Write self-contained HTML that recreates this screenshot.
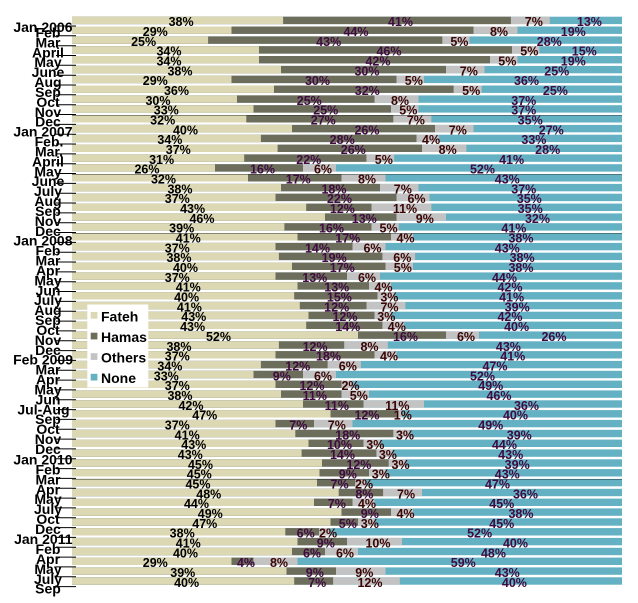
<!DOCTYPE html>
<html><head><meta charset="utf-8">
<style>
html,body{margin:0;padding:0;background:#fff;}
svg{display:block;font-family:"Liberation Sans",Arial,sans-serif;}
.f{fill:#dcd8b3}.h{fill:#6c6e5b}.o{fill:#c3c3c3}.n{fill:#63b1c3}
.L text{font-size:12.5px;font-weight:bold;text-anchor:middle}
.L .tf{fill:#000}.L .th{fill:#3f0a40}.L .to{fill:#3a0505}.L .tn{fill:#3f0a40}
.Y text{font-size:14px;font-weight:bold;fill:#000}
.Y .m{text-anchor:middle}.Y .e{text-anchor:end}
.lg text{font-size:14px;font-weight:bold;fill:#000}
</style></head><body>
<svg width="638" height="603" viewBox="0 0 638 603" xmlns="http://www.w3.org/2000/svg">
<rect width="638" height="603" fill="#fff"/>
<g id="bars">
<g transform="translate(0,16.7)"><rect class="n" x="72" width="550" height="7.4"/><rect class="o" x="72" width="477.8" height="7.4"/><rect class="h" x="72" width="438.9" height="7.4"/><rect class="f" x="72" width="211.1" height="7.4"/></g>
<g transform="translate(0,26.5)"><rect class="n" x="72" width="550" height="7.4"/><rect class="o" x="72" width="445.5" height="7.4"/><rect class="h" x="72" width="401.5" height="7.4"/><rect class="f" x="72" width="159.5" height="7.4"/></g>
<g transform="translate(0,36.4)"><rect class="n" x="72" width="550" height="7.4"/><rect class="o" x="72" width="397.5" height="7.4"/><rect class="h" x="72" width="370.3" height="7.4"/><rect class="f" x="72" width="136.1" height="7.4"/></g>
<g transform="translate(0,46.2)"><rect class="n" x="72" width="550" height="7.4"/><rect class="o" x="72" width="467.5" height="7.4"/><rect class="h" x="72" width="440" height="7.4"/><rect class="f" x="72" width="187" height="7.4"/></g>
<g transform="translate(0,56.0)"><rect class="n" x="72" width="550" height="7.4"/><rect class="o" x="72" width="445.5" height="7.4"/><rect class="h" x="72" width="418" height="7.4"/><rect class="f" x="72" width="187" height="7.4"/></g>
<g transform="translate(0,65.9)"><rect class="n" x="72" width="550" height="7.4"/><rect class="o" x="72" width="412.5" height="7.4"/><rect class="h" x="72" width="374" height="7.4"/><rect class="f" x="72" width="209" height="7.4"/></g>
<g transform="translate(0,75.7)"><rect class="n" x="72" width="550" height="7.4"/><rect class="o" x="72" width="352" height="7.4"/><rect class="h" x="72" width="324.5" height="7.4"/><rect class="f" x="72" width="159.5" height="7.4"/></g>
<g transform="translate(0,85.5)"><rect class="n" x="72" width="550" height="7.4"/><rect class="o" x="72" width="409.7" height="7.4"/><rect class="h" x="72" width="381.6" height="7.4"/><rect class="f" x="72" width="202" height="7.4"/></g>
<g transform="translate(0,95.4)"><rect class="n" x="72" width="550" height="7.4"/><rect class="o" x="72" width="346.5" height="7.4"/><rect class="h" x="72" width="302.5" height="7.4"/><rect class="f" x="72" width="165" height="7.4"/></g>
<g transform="translate(0,105.2)"><rect class="n" x="72" width="550" height="7.4"/><rect class="o" x="72" width="346.5" height="7.4"/><rect class="h" x="72" width="319" height="7.4"/><rect class="f" x="72" width="181.5" height="7.4"/></g>
<g transform="translate(0,115.1)"><rect class="n" x="72" width="550" height="7.4"/><rect class="o" x="72" width="359.4" height="7.4"/><rect class="h" x="72" width="321.3" height="7.4"/><rect class="f" x="72" width="174.3" height="7.4"/></g>
<g transform="translate(0,124.9)"><rect class="n" x="72" width="550" height="7.4"/><rect class="o" x="72" width="401.5" height="7.4"/><rect class="h" x="72" width="363" height="7.4"/><rect class="f" x="72" width="220" height="7.4"/></g>
<g transform="translate(0,134.7)"><rect class="n" x="72" width="550" height="7.4"/><rect class="o" x="72" width="366.7" height="7.4"/><rect class="h" x="72" width="344.5" height="7.4"/><rect class="f" x="72" width="188.9" height="7.4"/></g>
<g transform="translate(0,144.6)"><rect class="n" x="72" width="550" height="7.4"/><rect class="o" x="72" width="394.4" height="7.4"/><rect class="h" x="72" width="350" height="7.4"/><rect class="f" x="72" width="205.6" height="7.4"/></g>
<g transform="translate(0,154.4)"><rect class="n" x="72" width="550" height="7.4"/><rect class="o" x="72" width="322.2" height="7.4"/><rect class="h" x="72" width="294.4" height="7.4"/><rect class="f" x="72" width="172.2" height="7.4"/></g>
<g transform="translate(0,164.2)"><rect class="n" x="72" width="550" height="7.4"/><rect class="o" x="72" width="264" height="7.4"/><rect class="h" x="72" width="231" height="7.4"/><rect class="f" x="72" width="143" height="7.4"/></g>
<g transform="translate(0,174.1)"><rect class="n" x="72" width="550" height="7.4"/><rect class="o" x="72" width="313.5" height="7.4"/><rect class="h" x="72" width="269.5" height="7.4"/><rect class="f" x="72" width="176" height="7.4"/></g>
<g transform="translate(0,183.9)"><rect class="n" x="72" width="550" height="7.4"/><rect class="o" x="72" width="346.5" height="7.4"/><rect class="h" x="72" width="308" height="7.4"/><rect class="f" x="72" width="209" height="7.4"/></g>
<g transform="translate(0,193.7)"><rect class="n" x="72" width="550" height="7.4"/><rect class="o" x="72" width="357.5" height="7.4"/><rect class="h" x="72" width="324.5" height="7.4"/><rect class="f" x="72" width="203.5" height="7.4"/></g>
<g transform="translate(0,203.6)"><rect class="n" x="72" width="550" height="7.4"/><rect class="o" x="72" width="359.4" height="7.4"/><rect class="h" x="72" width="299.5" height="7.4"/><rect class="f" x="72" width="234.2" height="7.4"/></g>
<g transform="translate(0,213.4)"><rect class="n" x="72" width="550" height="7.4"/><rect class="o" x="72" width="374" height="7.4"/><rect class="h" x="72" width="324.5" height="7.4"/><rect class="f" x="72" width="253" height="7.4"/></g>
<g transform="translate(0,223.2)"><rect class="n" x="72" width="550" height="7.4"/><rect class="o" x="72" width="326.7" height="7.4"/><rect class="h" x="72" width="299.5" height="7.4"/><rect class="f" x="72" width="212.4" height="7.4"/></g>
<g transform="translate(0,233.1)"><rect class="n" x="72" width="550" height="7.4"/><rect class="o" x="72" width="341" height="7.4"/><rect class="h" x="72" width="319" height="7.4"/><rect class="f" x="72" width="225.5" height="7.4"/></g>
<g transform="translate(0,242.9)"><rect class="n" x="72" width="550" height="7.4"/><rect class="o" x="72" width="313.5" height="7.4"/><rect class="h" x="72" width="280.5" height="7.4"/><rect class="f" x="72" width="203.5" height="7.4"/></g>
<g transform="translate(0,252.7)"><rect class="n" x="72" width="550" height="7.4"/><rect class="o" x="72" width="343.1" height="7.4"/><rect class="h" x="72" width="310.4" height="7.4"/><rect class="f" x="72" width="206.9" height="7.4"/></g>
<g transform="translate(0,262.6)"><rect class="n" x="72" width="550" height="7.4"/><rect class="o" x="72" width="341" height="7.4"/><rect class="h" x="72" width="313.5" height="7.4"/><rect class="f" x="72" width="220" height="7.4"/></g>
<g transform="translate(0,272.4)"><rect class="n" x="72" width="550" height="7.4"/><rect class="o" x="72" width="308" height="7.4"/><rect class="h" x="72" width="275" height="7.4"/><rect class="f" x="72" width="203.5" height="7.4"/></g>
<g transform="translate(0,282.2)"><rect class="n" x="72" width="550" height="7.4"/><rect class="o" x="72" width="319" height="7.4"/><rect class="h" x="72" width="297" height="7.4"/><rect class="f" x="72" width="225.5" height="7.4"/></g>
<g transform="translate(0,292.1)"><rect class="n" x="72" width="550" height="7.4"/><rect class="o" x="72" width="322.2" height="7.4"/><rect class="h" x="72" width="305.5" height="7.4"/><rect class="f" x="72" width="222.2" height="7.4"/></g>
<g transform="translate(0,301.9)"><rect class="n" x="72" width="550" height="7.4"/><rect class="o" x="72" width="333.4" height="7.4"/><rect class="h" x="72" width="294.5" height="7.4"/><rect class="f" x="72" width="227.8" height="7.4"/></g>
<g transform="translate(0,311.7)"><rect class="n" x="72" width="550" height="7.4"/><rect class="o" x="72" width="319" height="7.4"/><rect class="h" x="72" width="302.5" height="7.4"/><rect class="f" x="72" width="236.5" height="7.4"/></g>
<g transform="translate(0,321.6)"><rect class="n" x="72" width="550" height="7.4"/><rect class="o" x="72" width="332.2" height="7.4"/><rect class="h" x="72" width="310.4" height="7.4"/><rect class="f" x="72" width="234.2" height="7.4"/></g>
<g transform="translate(0,331.4)"><rect class="n" x="72" width="550" height="7.4"/><rect class="o" x="72" width="407" height="7.4"/><rect class="h" x="72" width="374" height="7.4"/><rect class="f" x="72" width="286" height="7.4"/></g>
<g transform="translate(0,341.3)"><rect class="n" x="72" width="550" height="7.4"/><rect class="o" x="72" width="315.8" height="7.4"/><rect class="h" x="72" width="272.2" height="7.4"/><rect class="f" x="72" width="206.9" height="7.4"/></g>
<g transform="translate(0,351.1)"><rect class="n" x="72" width="550" height="7.4"/><rect class="o" x="72" width="324.5" height="7.4"/><rect class="h" x="72" width="302.5" height="7.4"/><rect class="f" x="72" width="203.5" height="7.4"/></g>
<g transform="translate(0,360.9)"><rect class="n" x="72" width="550" height="7.4"/><rect class="o" x="72" width="288.9" height="7.4"/><rect class="h" x="72" width="255.6" height="7.4"/><rect class="f" x="72" width="188.9" height="7.4"/></g>
<g transform="translate(0,370.8)"><rect class="n" x="72" width="550" height="7.4"/><rect class="o" x="72" width="264" height="7.4"/><rect class="h" x="72" width="231" height="7.4"/><rect class="f" x="72" width="181.5" height="7.4"/></g>
<g transform="translate(0,380.6)"><rect class="n" x="72" width="550" height="7.4"/><rect class="o" x="72" width="280.5" height="7.4"/><rect class="h" x="72" width="269.5" height="7.4"/><rect class="f" x="72" width="203.5" height="7.4"/></g>
<g transform="translate(0,390.4)"><rect class="n" x="72" width="550" height="7.4"/><rect class="o" x="72" width="297" height="7.4"/><rect class="h" x="72" width="269.5" height="7.4"/><rect class="f" x="72" width="209" height="7.4"/></g>
<g transform="translate(0,400.3)"><rect class="n" x="72" width="550" height="7.4"/><rect class="o" x="72" width="352" height="7.4"/><rect class="h" x="72" width="291.5" height="7.4"/><rect class="f" x="72" width="231" height="7.4"/></g>
<g transform="translate(0,410.1)"><rect class="n" x="72" width="550" height="7.4"/><rect class="o" x="72" width="330" height="7.4"/><rect class="h" x="72" width="324.5" height="7.4"/><rect class="f" x="72" width="258.5" height="7.4"/></g>
<g transform="translate(0,419.9)"><rect class="n" x="72" width="550" height="7.4"/><rect class="o" x="72" width="280.5" height="7.4"/><rect class="h" x="72" width="242" height="7.4"/><rect class="f" x="72" width="203.5" height="7.4"/></g>
<g transform="translate(0,429.8)"><rect class="n" x="72" width="550" height="7.4"/><rect class="o" x="72" width="337.6" height="7.4"/><rect class="h" x="72" width="321.3" height="7.4"/><rect class="f" x="72" width="223.3" height="7.4"/></g>
<g transform="translate(0,439.6)"><rect class="n" x="72" width="550" height="7.4"/><rect class="o" x="72" width="308" height="7.4"/><rect class="h" x="72" width="291.5" height="7.4"/><rect class="f" x="72" width="236.5" height="7.4"/></g>
<g transform="translate(0,449.4)"><rect class="n" x="72" width="550" height="7.4"/><rect class="o" x="72" width="320.4" height="7.4"/><rect class="h" x="72" width="304.4" height="7.4"/><rect class="f" x="72" width="229.6" height="7.4"/></g>
<g transform="translate(0,459.3)"><rect class="n" x="72" width="550" height="7.4"/><rect class="o" x="72" width="333.4" height="7.4"/><rect class="h" x="72" width="316.7" height="7.4"/><rect class="f" x="72" width="250" height="7.4"/></g>
<g transform="translate(0,469.1)"><rect class="n" x="72" width="550" height="7.4"/><rect class="o" x="72" width="313.5" height="7.4"/><rect class="h" x="72" width="297" height="7.4"/><rect class="f" x="72" width="247.5" height="7.4"/></g>
<g transform="translate(0,478.9)"><rect class="n" x="72" width="550" height="7.4"/><rect class="o" x="72" width="294" height="7.4"/><rect class="h" x="72" width="283.1" height="7.4"/><rect class="f" x="72" width="245" height="7.4"/></g>
<g transform="translate(0,488.8)"><rect class="n" x="72" width="550" height="7.4"/><rect class="o" x="72" width="350" height="7.4"/><rect class="h" x="72" width="311.1" height="7.4"/><rect class="f" x="72" width="266.7" height="7.4"/></g>
<g transform="translate(0,498.6)"><rect class="n" x="72" width="550" height="7.4"/><rect class="o" x="72" width="302.5" height="7.4"/><rect class="h" x="72" width="280.5" height="7.4"/><rect class="f" x="72" width="242" height="7.4"/></g>
<g transform="translate(0,508.4)"><rect class="n" x="72" width="550" height="7.4"/><rect class="o" x="72" width="341" height="7.4"/><rect class="h" x="72" width="319" height="7.4"/><rect class="f" x="72" width="269.5" height="7.4"/></g>
<g transform="translate(0,518.3)"><rect class="n" x="72" width="550" height="7.4"/><rect class="o" x="72" width="302.5" height="7.4"/><rect class="h" x="72" width="286" height="7.4"/><rect class="f" x="72" width="258.5" height="7.4"/></g>
<g transform="translate(0,528.1)"><rect class="n" x="72" width="550" height="7.4"/><rect class="o" x="72" width="258.2" height="7.4"/><rect class="h" x="72" width="247" height="7.4"/><rect class="f" x="72" width="213.3" height="7.4"/></g>
<g transform="translate(0,537.9)"><rect class="n" x="72" width="550" height="7.4"/><rect class="o" x="72" width="330" height="7.4"/><rect class="h" x="72" width="275" height="7.4"/><rect class="f" x="72" width="225.5" height="7.4"/></g>
<g transform="translate(0,547.8)"><rect class="n" x="72" width="550" height="7.4"/><rect class="o" x="72" width="286" height="7.4"/><rect class="h" x="72" width="253" height="7.4"/><rect class="f" x="72" width="220" height="7.4"/></g>
<g transform="translate(0,557.6)"><rect class="n" x="72" width="550" height="7.4"/><rect class="o" x="72" width="225.5" height="7.4"/><rect class="h" x="72" width="181.5" height="7.4"/><rect class="f" x="72" width="159.5" height="7.4"/></g>
<g transform="translate(0,567.4)"><rect class="n" x="72" width="550" height="7.4"/><rect class="o" x="72" width="313.5" height="7.4"/><rect class="h" x="72" width="264" height="7.4"/><rect class="f" x="72" width="214.5" height="7.4"/></g>
<g transform="translate(0,577.3)"><rect class="n" x="72" width="550" height="7.4"/><rect class="o" x="72" width="327.8" height="7.4"/><rect class="h" x="72" width="261.1" height="7.4"/><rect class="f" x="72" width="222.2" height="7.4"/></g>
</g>
<g stroke="#000" stroke-opacity="0.35" stroke-width="1">
<line x1="72" x2="622" y1="115.5" y2="115.5"/>
<line x1="72" x2="622" y1="174.5" y2="174.5"/>
<line x1="72" x2="622" y1="233.5" y2="233.5"/>
<line x1="72" x2="622" y1="479.5" y2="479.5"/>
</g>
<g stroke="#000" stroke-width="1">
<line x1="56" x2="76" y1="26" y2="26"/><line x1="56" x2="76" y1="35.8" y2="35.8"/><line x1="56" x2="76" y1="45.7" y2="45.7"/><line x1="56" x2="76" y1="55.5" y2="55.5"/><line x1="56" x2="76" y1="65.3" y2="65.3"/><line x1="56" x2="76" y1="75.2" y2="75.2"/><line x1="56" x2="76" y1="85" y2="85"/><line x1="56" x2="76" y1="94.8" y2="94.8"/><line x1="56" x2="76" y1="104.7" y2="104.7"/><line x1="56" x2="76" y1="114.5" y2="114.5"/>
<line x1="56" x2="76" y1="124.4" y2="124.4"/><line x1="56" x2="76" y1="134.2" y2="134.2"/><line x1="56" x2="76" y1="144" y2="144"/><line x1="56" x2="76" y1="153.9" y2="153.9"/><line x1="56" x2="76" y1="163.7" y2="163.7"/><line x1="56" x2="76" y1="173.5" y2="173.5"/><line x1="56" x2="76" y1="183.4" y2="183.4"/><line x1="56" x2="76" y1="193.2" y2="193.2"/><line x1="56" x2="76" y1="203" y2="203"/><line x1="56" x2="76" y1="212.9" y2="212.9"/>
<line x1="56" x2="76" y1="222.7" y2="222.7"/><line x1="56" x2="76" y1="232.5" y2="232.5"/><line x1="56" x2="76" y1="242.4" y2="242.4"/><line x1="56" x2="76" y1="252.2" y2="252.2"/><line x1="56" x2="76" y1="262" y2="262"/><line x1="56" x2="76" y1="271.9" y2="271.9"/><line x1="56" x2="76" y1="281.7" y2="281.7"/><line x1="56" x2="76" y1="291.5" y2="291.5"/><line x1="56" x2="76" y1="301.4" y2="301.4"/><line x1="56" x2="76" y1="311.2" y2="311.2"/>
<line x1="56" x2="76" y1="321.1" y2="321.1"/><line x1="56" x2="76" y1="330.9" y2="330.9"/><line x1="56" x2="76" y1="340.7" y2="340.7"/><line x1="56" x2="76" y1="350.6" y2="350.6"/><line x1="56" x2="76" y1="360.4" y2="360.4"/><line x1="56" x2="76" y1="370.2" y2="370.2"/><line x1="56" x2="76" y1="380.1" y2="380.1"/><line x1="56" x2="76" y1="389.9" y2="389.9"/><line x1="56" x2="76" y1="399.7" y2="399.7"/><line x1="56" x2="76" y1="409.6" y2="409.6"/>
<line x1="56" x2="76" y1="419.4" y2="419.4"/><line x1="56" x2="76" y1="429.2" y2="429.2"/><line x1="56" x2="76" y1="439.1" y2="439.1"/><line x1="56" x2="76" y1="448.9" y2="448.9"/><line x1="56" x2="76" y1="458.7" y2="458.7"/><line x1="56" x2="76" y1="468.6" y2="468.6"/><line x1="56" x2="76" y1="478.4" y2="478.4"/><line x1="56" x2="76" y1="488.3" y2="488.3"/><line x1="56" x2="76" y1="498.1" y2="498.1"/><line x1="56" x2="76" y1="507.9" y2="507.9"/>
<line x1="56" x2="76" y1="517.8" y2="517.8"/><line x1="56" x2="76" y1="527.6" y2="527.6"/><line x1="56" x2="76" y1="537.4" y2="537.4"/><line x1="56" x2="76" y1="547.3" y2="547.3"/><line x1="56" x2="76" y1="557.1" y2="557.1"/><line x1="56" x2="76" y1="566.9" y2="566.9"/><line x1="56" x2="76" y1="576.8" y2="576.8"/><line x1="56" x2="76" y1="586.6" y2="586.6"/>
</g>
<g class="Y">
<text class="e" x="72.5" y="31.9">Jan 2006</text>
<text class="m" x="48" y="37.5">Feb</text>
<text class="m" x="48" y="47.4">Mar</text>
<text class="m" x="48" y="57.3">April</text>
<text class="m" x="48" y="67.2">May</text>
<text class="m" x="48" y="77.2">June</text>
<text class="m" x="48" y="87.1">Aug</text>
<text class="m" x="48" y="97.0">Sep</text>
<text class="m" x="48" y="106.9">Oct</text>
<text class="m" x="48" y="116.8">Nov</text>
<text class="m" x="48" y="126.7">Dec</text>
<text class="e" x="72.5" y="136.6">Jan 2007</text>
<text class="m" x="49" y="146.6">Feb.</text>
<text class="m" x="49" y="156.5">Mar.</text>
<text class="m" x="48" y="166.4">April</text>
<text class="m" x="48" y="176.3">May</text>
<text class="m" x="48" y="186.2">June</text>
<text class="m" x="48" y="196.1">July</text>
<text class="m" x="48" y="206.1">Aug</text>
<text class="m" x="48" y="216.0">Sep</text>
<text class="m" x="48" y="225.9">Nov</text>
<text class="m" x="48" y="235.8">Dec</text>
<text class="e" x="72.5" y="245.7">Jan 2008</text>
<text class="m" x="48" y="255.6">Feb</text>
<text class="m" x="48" y="265.5">Mar</text>
<text class="m" x="48" y="275.5">Apr</text>
<text class="m" x="48" y="285.4">May</text>
<text class="m" x="48" y="295.3">Jun</text>
<text class="m" x="48" y="305.2">July</text>
<text class="m" x="48" y="315.1">Aug</text>
<text class="m" x="48" y="325.0">Sep</text>
<text class="m" x="48" y="335.0">Oct</text>
<text class="m" x="48" y="344.9">Nov</text>
<text class="m" x="48" y="354.8">Dec</text>
<text class="e" x="73" y="364.7">Feb 2009</text>
<text class="m" x="48" y="374.6">Mar</text>
<text class="m" x="48" y="384.5">Apr</text>
<text class="m" x="48" y="394.4">May</text>
<text class="m" x="48" y="404.4">Jun</text>
<text class="e" x="69.5" y="414.3">Jul-Aug</text>
<text class="m" x="48" y="424.2">Sep</text>
<text class="m" x="48" y="434.1">Oct</text>
<text class="m" x="48" y="444.0">Nov</text>
<text class="m" x="48" y="453.9">Dec</text>
<text class="e" x="72.5" y="464.5">Jan 2010</text>
<text class="m" x="48" y="474.5">Feb</text>
<text class="m" x="48" y="484.4">Mar</text>
<text class="m" x="48" y="494.3">Apr</text>
<text class="m" x="48" y="504.2">May</text>
<text class="m" x="48" y="514.1">July</text>
<text class="m" x="48" y="524.0">Oct</text>
<text class="m" x="48" y="534.0">Dec</text>
<text class="e" x="72.5" y="544.2">Jan 2011</text>
<text class="m" x="48" y="554.1">Feb</text>
<text class="m" x="48" y="564.0">Apr</text>
<text class="m" x="48" y="573.9">May</text>
<text class="m" x="48" y="583.8">July</text>
<text class="m" x="48" y="593.5">Sep</text>
</g>
<g class="L" transform="translate(3.5,0)">
<g transform="translate(0,26.2)"><text class="tf" x="177.6">38%</text><text class="th" x="397">41%</text><text class="to" x="530.3">7%</text><text class="tn" x="585.9">13%</text></g>
<g transform="translate(0,36.0)"><text class="tf" x="151.8">29%</text><text class="th" x="352.5">44%</text><text class="to" x="495.5">8%</text><text class="tn" x="569.8">19%</text></g>
<g transform="translate(0,45.9)"><text class="tf" x="140.1">25%</text><text class="th" x="325.2">43%</text><text class="to" x="455.9">5%</text><text class="tn" x="545.8">28%</text></g>
<g transform="translate(0,55.7)"><text class="tf" x="165.5">34%</text><text class="th" x="385.5">46%</text><text class="to" x="525.8">5%</text><text class="tn" x="580.8">15%</text></g>
<g transform="translate(0,65.5)"><text class="tf" x="165.5">34%</text><text class="th" x="374.5">42%</text><text class="to" x="503.8">5%</text><text class="tn" x="569.8">19%</text></g>
<g transform="translate(0,75.4)"><text class="tf" x="176.5">38%</text><text class="th" x="363.5">30%</text><text class="to" x="465.3">7%</text><text class="tn" x="553.3">25%</text></g>
<g transform="translate(0,85.2)"><text class="tf" x="151.8">29%</text><text class="th" x="314">30%</text><text class="to" x="410.3">5%</text><text class="tn" x="523">36%</text></g>
<g transform="translate(0,95.0)"><text class="tf" x="173">36%</text><text class="th" x="363.8">32%</text><text class="to" x="467.7">5%</text><text class="tn" x="551.9">25%</text></g>
<g transform="translate(0,104.9)"><text class="tf" x="154.5">30%</text><text class="th" x="305.8">25%</text><text class="to" x="396.5">8%</text><text class="tn" x="520.3">37%</text></g>
<g transform="translate(0,114.7)"><text class="tf" x="162.8">33%</text><text class="th" x="322.3">25%</text><text class="to" x="404.8">5%</text><text class="tn" x="520.3">37%</text></g>
<g transform="translate(0,124.6)"><text class="tf" x="159.2">32%</text><text class="th" x="319.8">27%</text><text class="to" x="412.4">7%</text><text class="tn" x="526.7">35%</text></g>
<g transform="translate(0,134.4)"><text class="tf" x="182">40%</text><text class="th" x="363.5">26%</text><text class="to" x="454.3">7%</text><text class="tn" x="547.8">27%</text></g>
<g transform="translate(0,144.2)"><text class="tf" x="166.4">34%</text><text class="th" x="338.7">28%</text><text class="to" x="427.6">4%</text><text class="tn" x="530.4">33%</text></g>
<g transform="translate(0,154.1)"><text class="tf" x="174.8">37%</text><text class="th" x="349.8">26%</text><text class="to" x="444.2">8%</text><text class="tn" x="544.2">28%</text></g>
<g transform="translate(0,163.9)"><text class="tf" x="158.1">31%</text><text class="th" x="305.3">22%</text><text class="to" x="380.3">5%</text><text class="tn" x="508.1">41%</text></g>
<g transform="translate(0,173.7)"><text class="tf" x="143.5">26%</text><text class="th" x="259">16%</text><text class="to" x="319.5">6%</text><text class="tn" x="479">52%</text></g>
<g transform="translate(0,183.6)"><text class="tf" x="160">32%</text><text class="th" x="294.8">17%</text><text class="to" x="363.5">8%</text><text class="tn" x="503.8">43%</text></g>
<g transform="translate(0,193.4)"><text class="tf" x="176.5">38%</text><text class="th" x="330.5">18%</text><text class="to" x="399.3">7%</text><text class="tn" x="520.3">37%</text></g>
<g transform="translate(0,203.2)"><text class="tf" x="173.8">37%</text><text class="th" x="336">22%</text><text class="to" x="413">6%</text><text class="tn" x="525.8">35%</text></g>
<g transform="translate(0,213.1)"><text class="tf" x="189.1">43%</text><text class="th" x="338.9">12%</text><text class="to" x="401.5">11%</text><text class="tn" x="526.7">35%</text></g>
<g transform="translate(0,222.9)"><text class="tf" x="198.5">46%</text><text class="th" x="360.8">13%</text><text class="to" x="421.3">9%</text><text class="tn" x="534">32%</text></g>
<g transform="translate(0,232.7)"><text class="tf" x="178.2">39%</text><text class="th" x="328">16%</text><text class="to" x="385.1">5%</text><text class="tn" x="510.4">41%</text></g>
<g transform="translate(0,242.6)"><text class="tf" x="184.8">41%</text><text class="th" x="344.3">17%</text><text class="to" x="402">4%</text><text class="tn" x="517.5">38%</text></g>
<g transform="translate(0,252.4)"><text class="tf" x="173.8">37%</text><text class="th" x="314">14%</text><text class="to" x="369">6%</text><text class="tn" x="503.8">43%</text></g>
<g transform="translate(0,262.2)"><text class="tf" x="175.5">38%</text><text class="th" x="330.7">19%</text><text class="to" x="398.8">6%</text><text class="tn" x="518.6">38%</text></g>
<g transform="translate(0,272.1)"><text class="tf" x="182">40%</text><text class="th" x="338.8">17%</text><text class="to" x="399.3">5%</text><text class="tn" x="517.5">38%</text></g>
<g transform="translate(0,281.9)"><text class="tf" x="173.8">37%</text><text class="th" x="311.3">13%</text><text class="to" x="363.5">6%</text><text class="tn" x="501">44%</text></g>
<g transform="translate(0,291.7)"><text class="tf" x="184.8">41%</text><text class="th" x="333.3">13%</text><text class="to" x="380">4%</text><text class="tn" x="506.5">42%</text></g>
<g transform="translate(0,301.6)"><text class="tf" x="183.1">40%</text><text class="th" x="335.9">15%</text><text class="to" x="385.9">3%</text><text class="tn" x="508.1">41%</text></g>
<g transform="translate(0,311.4)"><text class="tf" x="185.9">41%</text><text class="th" x="333.2">12%</text><text class="to" x="386">7%</text><text class="tn" x="513.7">39%</text></g>
<g transform="translate(0,321.2)"><text class="tf" x="190.3">43%</text><text class="th" x="341.5">12%</text><text class="to" x="382.8">3%</text><text class="tn" x="506.5">42%</text></g>
<g transform="translate(0,331.1)"><text class="tf" x="189.1">43%</text><text class="th" x="344.3">14%</text><text class="to" x="393.3">4%</text><text class="tn" x="513.1">40%</text></g>
<g transform="translate(0,340.9)"><text class="tf" x="215">52%</text><text class="th" x="402">16%</text><text class="to" x="462.5">6%</text><text class="tn" x="550.5">26%</text></g>
<g transform="translate(0,350.8)"><text class="tf" x="175.5">38%</text><text class="th" x="311.6">12%</text><text class="to" x="366">8%</text><text class="tn" x="504.9">43%</text></g>
<g transform="translate(0,360.6)"><text class="tf" x="173.8">37%</text><text class="th" x="325">18%</text><text class="to" x="385.5">4%</text><text class="tn" x="509.3">41%</text></g>
<g transform="translate(0,370.4)"><text class="tf" x="166.4">34%</text><text class="th" x="294.3">12%</text><text class="to" x="344.3">6%</text><text class="tn" x="491.5">47%</text></g>
<g transform="translate(0,380.3)"><text class="tf" x="162.8">33%</text><text class="th" x="278.3">9%</text><text class="to" x="319.5">6%</text><text class="tn" x="479">52%</text></g>
<g transform="translate(0,390.1)"><text class="tf" x="173.8">37%</text><text class="th" x="308.5">12%</text><text class="to" x="347">2%</text><text class="tn" x="487.3">49%</text></g>
<g transform="translate(0,399.9)"><text class="tf" x="176.5">38%</text><text class="th" x="311.3">11%</text><text class="to" x="355.3">5%</text><text class="tn" x="495.5">46%</text></g>
<g transform="translate(0,409.8)"><text class="tf" x="187.5">42%</text><text class="th" x="333.3">11%</text><text class="to" x="393.8">11%</text><text class="tn" x="523">36%</text></g>
<g transform="translate(0,419.6)"><text class="tf" x="201.3">47%</text><text class="th" x="363.5">12%</text><text class="to" x="399.3">1%</text><text class="tn" x="512">40%</text></g>
<g transform="translate(0,429.4)"><text class="tf" x="173.8">37%</text><text class="th" x="294.8">7%</text><text class="to" x="333.3">7%</text><text class="tn" x="487.3">49%</text></g>
<g transform="translate(0,439.3)"><text class="tf" x="183.7">41%</text><text class="th" x="344.3">18%</text><text class="to" x="401.5">3%</text><text class="tn" x="515.8">39%</text></g>
<g transform="translate(0,449.1)"><text class="tf" x="190.3">43%</text><text class="th" x="336">10%</text><text class="to" x="371.8">3%</text><text class="tn" x="501">44%</text></g>
<g transform="translate(0,458.9)"><text class="tf" x="186.8">43%</text><text class="th" x="339">14%</text><text class="to" x="384.4">3%</text><text class="tn" x="507.2">43%</text></g>
<g transform="translate(0,468.8)"><text class="tf" x="197">45%</text><text class="th" x="355.4">12%</text><text class="to" x="397.1">3%</text><text class="tn" x="513.7">39%</text></g>
<g transform="translate(0,478.6)"><text class="tf" x="195.8">45%</text><text class="th" x="344.3">9%</text><text class="to" x="377.3">3%</text><text class="tn" x="503.8">43%</text></g>
<g transform="translate(0,488.4)"><text class="tf" x="194.5">45%</text><text class="th" x="336.1">7%</text><text class="to" x="360.6">2%</text><text class="tn" x="494">47%</text></g>
<g transform="translate(0,498.3)"><text class="tf" x="205.3">48%</text><text class="th" x="360.9">8%</text><text class="to" x="402.6">7%</text><text class="tn" x="522">36%</text></g>
<g transform="translate(0,508.1)"><text class="tf" x="193">44%</text><text class="th" x="333.3">7%</text><text class="to" x="363.5">4%</text><text class="tn" x="498.3">45%</text></g>
<g transform="translate(0,517.9)"><text class="tf" x="206.8">49%</text><text class="th" x="366.3">9%</text><text class="to" x="402">4%</text><text class="tn" x="517.5">38%</text></g>
<g transform="translate(0,527.8)"><text class="tf" x="201.3">47%</text><text class="th" x="344.3">5%</text><text class="to" x="366.3">3%</text><text class="tn" x="498.3">45%</text></g>
<g transform="translate(0,537.6)"><text class="tf" x="178.7">38%</text><text class="th" x="302.2">6%</text><text class="to" x="324.6">2%</text><text class="tn" x="476.1">52%</text></g>
<g transform="translate(0,547.4)"><text class="tf" x="184.8">41%</text><text class="th" x="322.3">9%</text><text class="to" x="374.5">10%</text><text class="tn" x="512">40%</text></g>
<g transform="translate(0,557.3)"><text class="tf" x="182">40%</text><text class="th" x="308.5">6%</text><text class="to" x="341.5">6%</text><text class="tn" x="490">48%</text></g>
<g transform="translate(0,567.1)"><text class="tf" x="151.8">29%</text><text class="th" x="242.5">4%</text><text class="to" x="275.5">8%</text><text class="tn" x="459.8">59%</text></g>
<g transform="translate(0,576.9)"><text class="tf" x="179.3">39%</text><text class="th" x="311.3">9%</text><text class="to" x="360.8">9%</text><text class="tn" x="503.8">43%</text></g>
<g transform="translate(0,586.8)"><text class="tf" x="183.1">40%</text><text class="th" x="313.7">7%</text><text class="to" x="366.5">12%</text><text class="tn" x="510.9">40%</text></g>
</g>
<g class="lg">
<rect x="87.3" y="304.5" width="61" height="83" fill="#fff"/>
<rect class="f" x="90.7" y="312" width="6.7" height="6.7"/>
<rect class="h" x="90.7" y="332.7" width="6.7" height="6.7"/>
<rect class="o" x="90.7" y="353.2" width="6.7" height="6.7"/>
<rect class="n" x="90.7" y="373.8" width="6.7" height="6.7"/>
<text x="101" y="321.5">Fateh</text>
<text x="101" y="342">Hamas</text>
<text x="101" y="362.5">Others</text>
<text x="101" y="383">None</text>
</g>
</svg>
</body></html>
